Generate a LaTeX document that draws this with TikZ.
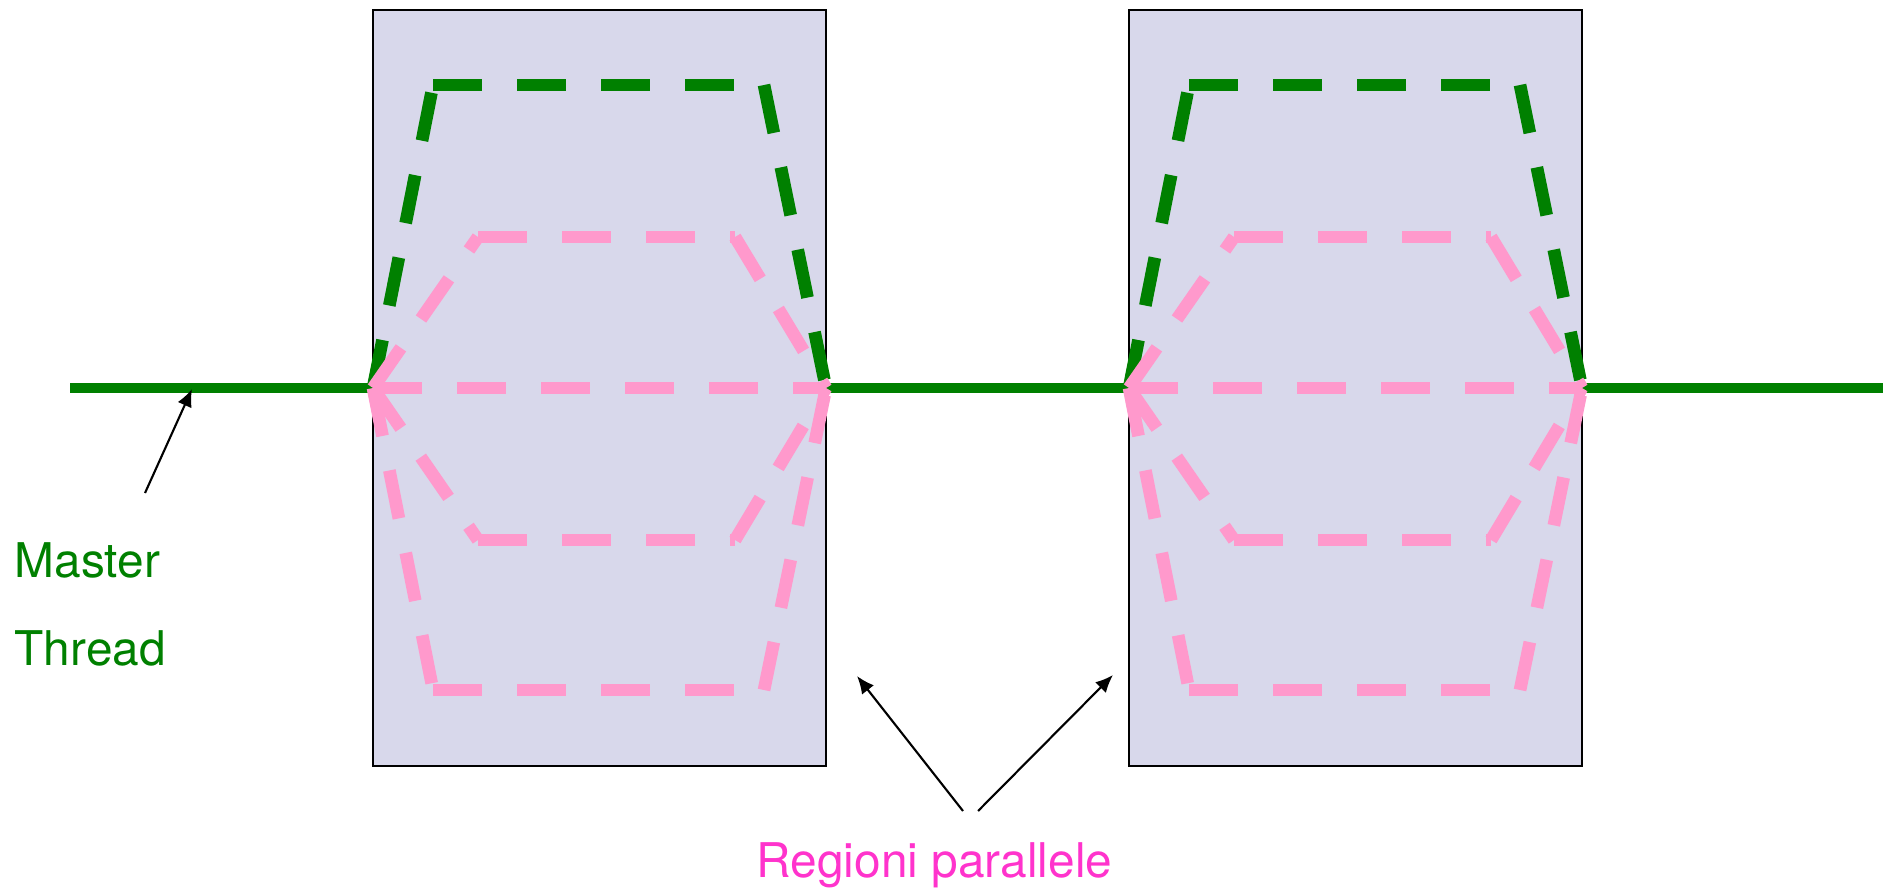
\documentclass[tikz,border=0pt]{standalone}
\usepackage{fontspec}
\setmainfont{TeX Gyre Heros}
\usetikzlibrary{arrows.meta}
\definecolor{mgreen}{RGB}{0,128,0}
\definecolor{mpink}{RGB}{255,153,204}
\definecolor{mlav}{RGB}{216,216,235}
\definecolor{mmag}{RGB}{255,51,204}
\begin{document}
\begin{tikzpicture}[x=0.01cm,y=-0.01cm,
  regionbox/.style={fill=mlav,draw=black,line width=0.6pt},
  mainline/.style={mgreen,line width=2.85pt},
  gdash/.style={mgreen,line width=3.6pt,dash pattern=on 13.9pt off 10pt},
  pdash/.style={mpink,line width=3.6pt,dash pattern=on 13.9pt off 10pt},
  pointer/.style={-{Latex[length=5pt,width=4.3pt]},line width=0.6pt,black},
  lbl/.style={inner sep=0pt,anchor=base west,font=\fontsize{13.6}{16}\selectfont}]
\useasboundingbox (0,0) rectangle (1889,888);

% regions
\foreach \o/\i in {0/1,756/2}{
  \begin{scope}[shift={(\o,0)}]
    \draw[regionbox] (373,10) rectangle (826,766);
    \coordinate (L\i) at (373,388);
    \coordinate (R\i) at (826,388);
    \coordinate (gTL\i) at (433,85);
    \coordinate (gTR\i) at (764,85);
    \coordinate (pBL\i) at (433,690);
    \coordinate (pBR\i) at (764,690);
    \coordinate (iTL\i) at (478,237);
    \coordinate (iTR\i) at (735,237);
    \coordinate (iBL\i) at (478,540);
    \coordinate (iBR\i) at (735,540);
  \end{scope}
}

% master thread line
\coordinate (mstart) at (70,388);
\coordinate (mend) at (1883,388);
\draw[mainline] (mstart) -- (L1);
\draw[mainline] (R1) -- (L2);
\draw[mainline] (R2) -- (mend);

\foreach \i in {1,2}{
  % green dashed (master inside region)
  \draw[gdash] (L\i) -- (gTL\i);
  \draw[gdash] (gTL\i) -- (gTR\i);
  \draw[gdash] (gTR\i) -- (R\i);
  % pink outer
  \draw[pdash] (L\i) -- (pBL\i);
  \draw[pdash] (pBL\i) -- (pBR\i);
  \draw[pdash] (pBR\i) -- (R\i);
  % pink inner
  \draw[pdash] (L\i) -- (iTL\i);
  \draw[pdash] (iTL\i) -- (iTR\i);
  \draw[pdash] (iTR\i) -- (R\i);
  \draw[pdash] (L\i) -- (iBL\i);
  \draw[pdash] (iBL\i) -- (iBR\i);
  \draw[pdash] (iBR\i) -- (R\i);
  % pink middle
  \draw[pdash] (L\i) -- (R\i);
}

% labels
\node[lbl,text=mgreen] (master) at (14,577) {Master};
\node[lbl,text=mgreen] (thread) at (14,665) {Thread};
\node[lbl,text=mmag] (reg) at (756,877) {Regioni parallele};

% pointers
\coordinate (mtail) at (145,493);
\coordinate (mtip) at (192,389);
\draw[pointer] (mtail) -- (mtip);
\coordinate (rtailA) at (963,811);
\coordinate (rtipA) at (857,676);
\coordinate (rtailB) at (978,811);
\coordinate (rtipB) at (1113,675);
\draw[pointer] (rtailA) -- (rtipA);
\draw[pointer] (rtailB) -- (rtipB);
\end{tikzpicture}
\end{document}
